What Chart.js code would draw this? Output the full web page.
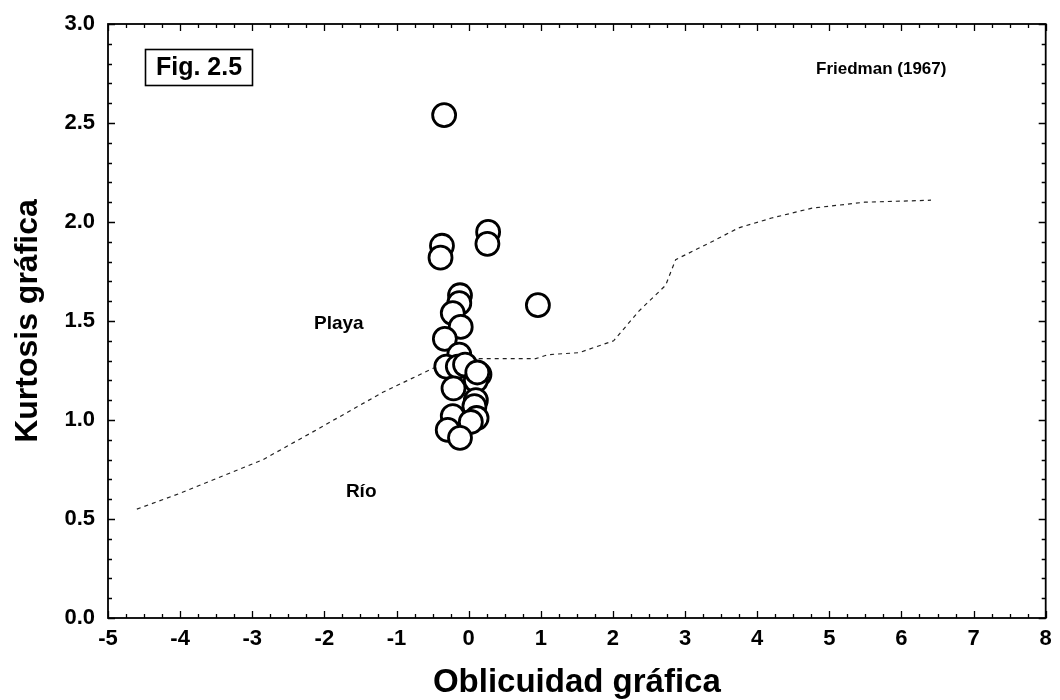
<!DOCTYPE html>
<html>
<head>
<meta charset="utf-8">
<script src="https://cdn.jsdelivr.net/npm/chart.js@4.4.1/dist/chart.umd.min.js"></script>
<style>
  html, body { margin: 0; padding: 0; background: #ffffff; }
  #wrap { width: 1060px; height: 700px; }
</style>
</head>
<body>
<div id="wrap"><canvas id="c" width="1060" height="700"></canvas></div>
<script>
// ---- Data ----
const xTicks = [-5, -4, -3, -2, -1, 0, 1, 2, 3, 4, 5, 6, 7, 8];
const yTickLabels = ['0.0', '0.5', '1.0', '1.5', '2.0', '2.5', '3.0'];

const sampleSkew = [-0.34, -0.37, -0.39, 0.27, 0.26, 0.96, -0.12, -0.13, -0.22, -0.11,
                    -0.33, -0.13, -0.31, -0.15, -0.05, 0.15, 0.10, 0.12, -0.21, 0.10,
                    0.08, -0.22, 0.11, 0.03, -0.29, -0.12];
const sampleKurt = [2.54, 1.88, 1.82, 1.95, 1.89, 1.58, 1.63, 1.59, 1.54, 1.47,
                    1.41, 1.33, 1.27, 1.27, 1.28, 1.23, 1.20, 1.24, 1.16, 1.10,
                    1.07, 1.02, 1.01, 0.99, 0.95, 0.91];

const boundarySkew = [-4.6, -4.0, -2.85, -2.16, -1.19, -0.5, -0.25, 0.05, 0.93, 1.1, 1.53,
                      2.01, 2.36, 2.73, 2.87, 3.37, 3.74, 4.2, 4.76, 5.49, 6.41];
const boundaryKurt = [0.55, 0.63, 0.80, 0.94, 1.14, 1.26, 1.30, 1.31, 1.31, 1.33, 1.34,
                      1.40, 1.55, 1.68, 1.81, 1.90, 1.97, 2.02, 2.07, 2.10, 2.11];

const labelTexts = ['Playa', 'Río', 'Friedman (1967)'];
const labelX = [-1.80, -1.49, 5.72];
const labelY = [1.485, 0.64, 2.77];
const figLabel = 'Fig. 2.5';

const FONT = "'Liberation Sans', Arial, sans-serif";

const framePlugin = {
  id: 'frame',
  afterDatasetsDraw(chart) {
    const ctx = chart.ctx;
    const a = chart.chartArea;
    const xs = chart.scales.x, ys = chart.scales.y;
    ctx.save();
    ctx.strokeStyle = '#000';
    ctx.lineWidth = 1.8;
    ctx.strokeRect(a.left, a.top, a.right - a.left, a.bottom - a.top);
    ctx.lineWidth = 1.3;
    ctx.beginPath();
    const xmin = xTicks[0], xmax = xTicks[xTicks.length - 1];
    for (let i = 0; i <= (xmax - xmin) * 4; i++) {
      const v = xmin + i * 0.25;
      const px = Math.round(xs.getPixelForValue(v)) + 0.5;
      const len = (i % 4 === 0) ? 7 : 4;
      ctx.moveTo(px, a.bottom); ctx.lineTo(px, a.bottom - len);
      ctx.moveTo(px, a.top); ctx.lineTo(px, a.top + len);
    }
    for (let i = 0; i <= 30; i++) {
      const v = i * 0.1;
      const py = Math.round(ys.getPixelForValue(v)) + 0.5;
      const len = (i % 5 === 0) ? 7 : 4;
      ctx.moveTo(a.left, py); ctx.lineTo(a.left + len, py);
      ctx.moveTo(a.right, py); ctx.lineTo(a.right - len, py);
    }
    ctx.stroke();

    ctx.fillStyle = '#000';
    ctx.textAlign = 'center';
    ctx.textBaseline = 'middle';
    for (let i = 0; i < labelTexts.length; i++) {
      ctx.font = (i === 2 ? 'bold 17px ' : 'bold 19px ') + FONT;
      ctx.fillText(labelTexts[i], xs.getPixelForValue(labelX[i]), ys.getPixelForValue(labelY[i]));
    }
    const bx = a.left + 37, by = a.top + 25, bw = 107, bh = 36;
    ctx.lineWidth = 1.6;
    ctx.strokeRect(bx + 0.5, by + 0.5, bw, bh);
    ctx.font = 'bold 25px ' + FONT;
    ctx.fillText(figLabel, bx + bw / 2 + 0.5, by + bh / 2 + 1.5);
    ctx.restore();
  }
};

new Chart(document.getElementById('c'), {
  type: 'scatter',
  data: {
    datasets: [
      {
        label: 'Muestras',
        data: sampleSkew.map((x, i) => ({ x: x, y: sampleKurt[i] })),
        pointStyle: 'circle',
        pointRadius: 11.5,
        pointBorderWidth: 2.8,
        pointBackgroundColor: '#ffffff',
        pointBorderColor: '#000000',
        order: 0
      },
      {
        label: 'Límite',
        data: boundarySkew.map((x, i) => ({ x: x, y: boundaryKurt[i] })),
        showLine: true,
        pointRadius: 0,
        borderColor: '#222222',
        borderWidth: 1.2,
        borderDash: [4, 4],
        tension: 0,
        fill: false,
        order: 1
      }
    ]
  },
  plugins: [framePlugin],
  options: {
    responsive: false,
    animation: false,
    devicePixelRatio: 1,
    layout: { padding: { top: 16, right: 12, left: 0, bottom: 0 } },
    plugins: { legend: { display: false }, tooltip: { enabled: false } },
    scales: {
      x: {
        type: 'linear',
        min: xTicks[0],
        max: xTicks[xTicks.length - 1],
        afterBuildTicks: (s) => { s.ticks = xTicks.map(v => ({ value: v })); },
        afterFit: (s) => { s.height = 82; s.paddingRight = 0; s.paddingLeft = 0; },
        grid: { display: false, drawTicks: false },
        border: { display: false },
        ticks: {
          color: '#000',
          font: { family: FONT, size: 22, weight: 'bold', lineHeight: 1 },
          padding: 10,
          maxRotation: 0,
          callback: (v) => String(v)
        },
        title: {
          display: true,
          text: 'Oblicuidad gráfica',
          color: '#000',
          font: { family: FONT, size: 33, weight: 'bold', lineHeight: 1 },
          padding: { top: 0, bottom: 1 }
        }
      },
      y: {
        type: 'linear',
        min: 0,
        max: 3,
        afterBuildTicks: (s) => { s.ticks = yTickLabels.map(t => ({ value: parseFloat(t) })); },
        afterFit: (s) => { s.width = 108; },
        grid: { display: false, drawTicks: false },
        border: { display: false },
        ticks: {
          color: '#000',
          font: { family: FONT, size: 22, weight: 'bold', lineHeight: 1 },
          padding: 13,
          callback: (v, i) => yTickLabels[i]
        },
        title: {
          display: true,
          text: 'Kurtosis gráfica',
          color: '#000',
          font: { family: FONT, size: 32, weight: 'bold', lineHeight: 1 },
          padding: { top: 12, bottom: 0 }
        }
      }
    }
  }
});
</script>
</body>
</html>
